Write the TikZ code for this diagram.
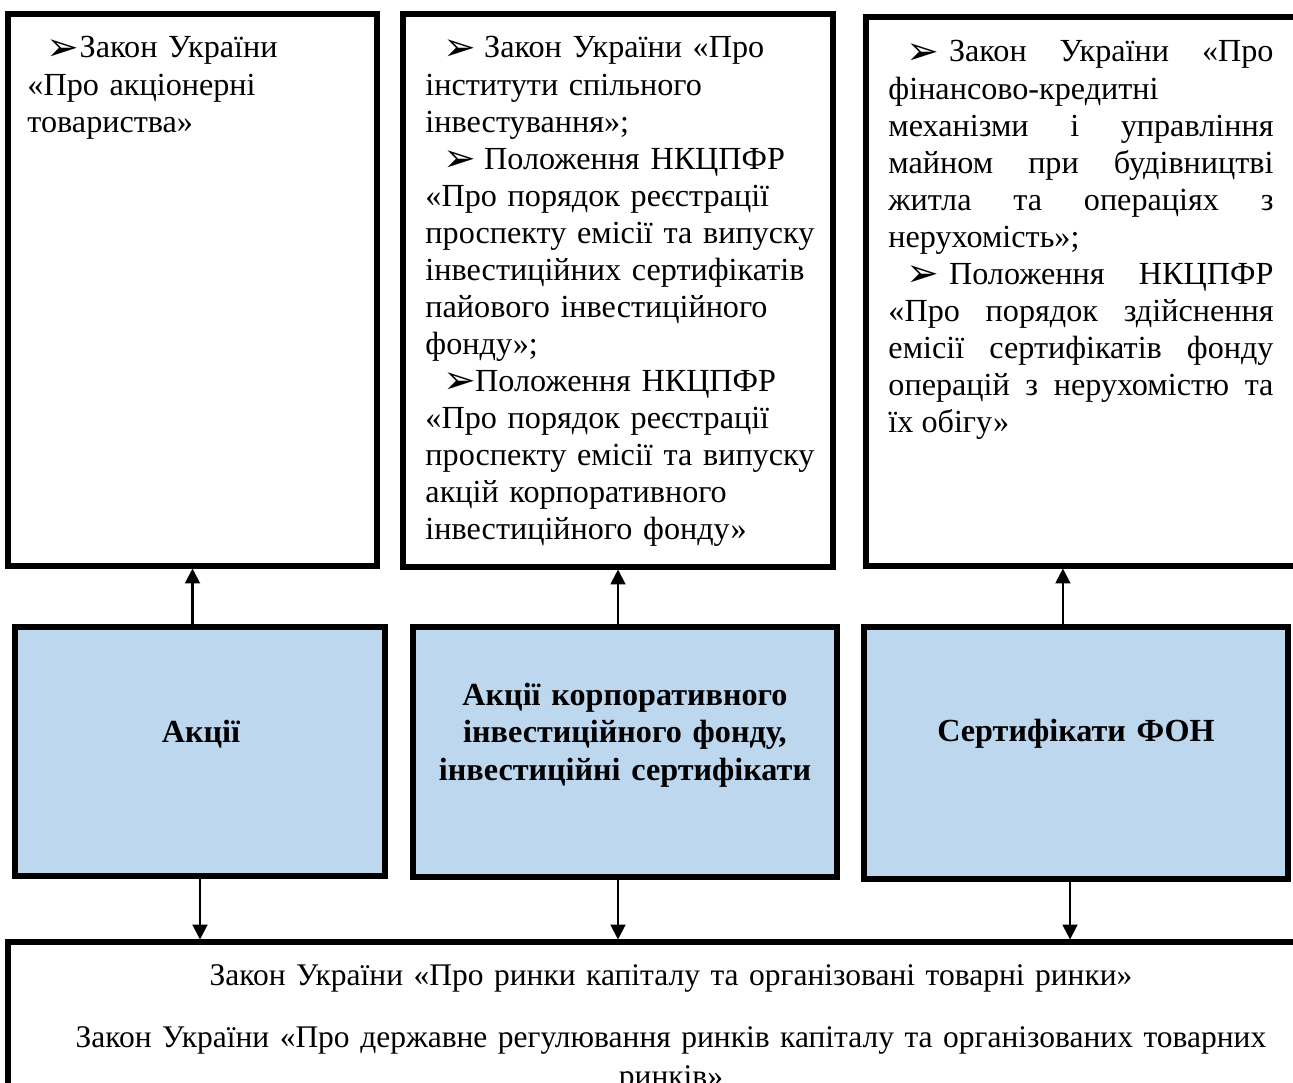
\documentclass[tikz,border=0pt]{standalone}
\usepackage{fontspec}
\setmainfont{Liberation Serif}
\newfontfamily\arrowfont{DejaVu Sans}
\usetikzlibrary{arrows.meta,fit}

\definecolor{paleblue}{RGB}{189,215,238}
\newcommand{\bul}{\raisebox{-1.2pt}{\arrowfont\fontsize{17}{17}\selectfont ➢}}
\tolerance=10000
\hyphenpenalty=10000

\tikzset{
  lawbox/.style={draw, line width=2.2pt, inner sep=0pt},
  paperbox/.style={draw, line width=2.2pt, fill=paleblue, inner sep=0pt},
  lawtext/.style={anchor=base west, inner sep=0pt, font=\fontsize{14}{16.1}\selectfont},
  papertext/.style={anchor=base, inner sep=0pt, align=center, text width=180pt,
    font=\fontsize{14}{16.5}\selectfont\bfseries},
  arr/.style={-{Triangle[width=6.5pt,length=6.5pt]}, line width=0.9pt},
}

\begin{document}
\begin{tikzpicture}[x=0.435pt, y=-0.435pt]
    \useasboundingbox (0,0) rectangle (1293,1083);
    \clip (0,0) rectangle (1293,1083);

    % laws above
    \node[lawbox, fit={(8,14) (377,566)}] (law1) {};
    \node[lawbox, fit={(403,14) (833,567)}] (law2) {};
    \node[lawbox, fit={(866,17) (1296,566)}] (law3) {};

    \node[lawtext, text width=155pt, align=left] (law1text) at (27,58)
      {\hspace*{8.3pt}\bul\hspace{0.2pt}Закон України\\
       «Про акціонерні\\
       товариства»};
    \node[lawtext, text width=174pt, align=left] (law2text) at (425,58)
      {\hspace*{7.8pt}\bul\hspace{3.5pt}Закон України «Про\\
       інститути спільного\\
       інвестування»;\\
       \hspace*{7.8pt}\bul\hspace{3.5pt}Положення НКЦПФР\\
       «Про порядок реєстрації\\
       проспекту емісії та випуску\\
       інвестиційних сертифікатів\\
       пайового інвестиційного\\
       фонду»;\\
       \hspace*{7.8pt}\bul\hspace{-0.4pt}Положення НКЦПФР\\
       «Про порядок реєстрації\\
       проспекту емісії та випуску\\
       акцій корпоративного\\
       інвестиційного фонду»};
    \node[lawtext, text width=167.5pt, align=justify] (law3text) at (888,62)
      {\hspace*{7.8pt}\bul\hspace{4.3pt}Закон України «Про\linebreak
       фінансово-кредитні\\
       механізми і управління\linebreak
       майном при будівництві\linebreak
       житла та операціях з\linebreak
       нерухомість»;\\
       \hspace*{7.8pt}\bul\hspace{4.3pt}Положення НКЦПФР\linebreak
       «Про порядок здійснення\linebreak
       емісії сертифікатів фонду\linebreak
       операцій з нерухомістю та\linebreak
       їх обігу»};

    % securities
    \node[paperbox, fit={(15,627) (385,876)}] (acts) {};
    \node[paperbox, fit={(413,627) (837,877)}] (kif) {};
    \node[paperbox, fit={(864,627) (1288,879)}] (fon) {};

    \node[papertext] (actsname) at (201,742) {Акції};
    \node[papertext] (kifname) at (625,705)
      {Акції корпоративного\\ інвестиційного фонду,\\ інвестиційні сертифікати};
    \node[papertext] (fonname) at (1076,741) {Сертифікати ФОН};

    % common laws below
    \node[lawbox, fit={(8,942) (1334,1130)}] (capital) {};
    \node[lawtext, anchor=base, text width=560pt, align=center,
      font=\fontsize{13.7}{15.8}\selectfont] (capitaltext) at (671,985)
      {Закон України «Про ринки капіталу та організовані товарні ринки»\\[11.2pt]
       Закон України «Про державне регулювання ринків капіталу та організованих товарних\\[1.2pt]
       ринків»};

    \draw[arr] (acts.north -| law1.south) -- (law1.south);
    \draw[arr] (kif.north -| law2.south) -- (law2.south);
    \draw[arr] ([xshift=-5.7pt]fon.north) -- ([xshift=-5.7pt]fon.north |- law3.south);

    \draw[arr] (acts.south) -- (acts.south |- capital.north);
    \draw[arr] (kif.south -| law2.south) -- (law2.south |- capital.north);
    \draw[arr] ([xshift=-2.6pt]fon.south) -- ([xshift=-2.6pt]fon.south |- capital.north);
\end{tikzpicture}
\end{document}
